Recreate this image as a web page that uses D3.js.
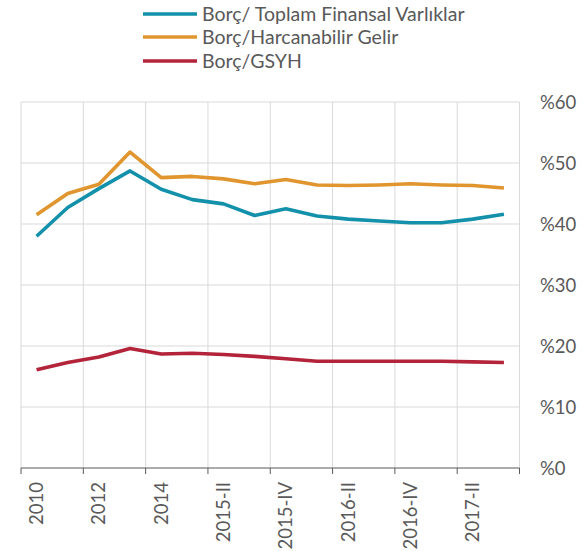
<!DOCTYPE html>
<html><head><meta charset="utf-8">
<script src="https://cdn.jsdelivr.net/npm/d3@7"></script>
<style>body{margin:0;background:#fff}svg{display:block}</style>
</head><body>
<svg id="c" width="585" height="551"></svg>
<script>
const categories = ["2010","2011","2012","2013","2014","2015-I","2015-II","2015-III","2015-IV","2016-I","2016-II","2016-III","2016-IV","2017-I","2017-II","2017-III"];
const tickLabels = ["2010","2012","2014","2015-II","2015-IV","2016-II","2016-IV","2017-II"];
const yTicks = [0,10,20,30,40,50,60];
const seriesNames = ["Borç/ Toplam Finansal Varlıklar","Borç/Harcanabilir Gelir","Borç/GSYH"];
const varliklar = [38.0,42.7,45.8,48.7,45.7,44.0,43.3,41.4,42.5,41.3,40.8,40.5,40.2,40.2,40.8,41.6];
const harcanabilir = [41.5,45.0,46.5,51.8,47.6,47.8,47.4,46.6,47.3,46.4,46.3,46.4,46.6,46.4,46.3,45.9];
const gsyh = [16.1,17.3,18.2,19.6,18.7,18.8,18.6,18.3,17.9,17.5,17.5,17.5,17.5,17.5,17.4,17.3];
const colors = ["#1390aa","#e0952f","#b3233a"];
const series = [varliklar, harcanabilir, gsyh];

const svg = d3.select("#c");
const L = 21, R = 519.5, T = 102, B = 468;
const font = "Lato, 'Open Sans', sans-serif";
const txt = "#595959";

const x = d3.scaleBand().domain(categories).range([L, R]).padding(0);
const y = d3.scaleLinear().domain([0, 60]).range([B, T]);

const vx = categories.filter((d,i)=>i%2===0).map(d=>x(d)).concat([R]);
svg.append("g").selectAll("line").data(vx).join("line")
  .attr("x1",d=>d).attr("x2",d=>d).attr("y1",T).attr("y2",B)
  .attr("stroke","#d9d9d9").attr("stroke-width",1);
svg.append("g").selectAll("line").data(yTicks.filter(d=>d>0)).join("line")
  .attr("x1",L).attr("x2",R).attr("y1",d=>y(d)).attr("y2",d=>y(d))
  .attr("stroke","#d9d9d9").attr("stroke-width",1);

svg.append("line").attr("x1",L).attr("x2",R).attr("y1",B).attr("y2",B).attr("stroke","#595959").attr("stroke-width",1);
svg.append("g").selectAll("line").data(vx).join("line")
  .attr("x1",d=>d).attr("x2",d=>d).attr("y1",B).attr("y2",B+6)
  .attr("stroke","#595959").attr("stroke-width",1);

svg.append("g").selectAll("text").data(tickLabels).join("text")
  .attr("transform",d=>`translate(${x(d)+x.bandwidth()/2+6.5},${B+14}) rotate(-90)`)
  .attr("text-anchor","end")
  .attr("font-family",font).attr("font-size",18.5).attr("fill",txt)
  .text(d=>d);

svg.append("g").selectAll("text").data(yTicks).join("text")
  .attr("x",540).attr("y",d=>y(d)+6.5)
  .attr("font-family",font).attr("font-size",18.5).attr("fill",txt)
  .text(d=>"%"+d);

const line = d3.line().x((d,i)=>x(categories[i])+x.bandwidth()/2).y(d=>y(d));
series.forEach((s,k)=>{
  svg.append("path").datum(s).attr("d",line)
    .attr("fill","none").attr("stroke",colors[k]).attr("stroke-width",3.6)
    .attr("stroke-linejoin","round").attr("stroke-linecap","butt");
});

const ly = [14,37,61];
seriesNames.forEach((n,k)=>{
  svg.append("line").attr("x1",143).attr("x2",197).attr("y1",ly[k]).attr("y2",ly[k])
    .attr("stroke",colors[k]).attr("stroke-width",3.6);
  svg.append("text").attr("x",202).attr("y",ly[k]+6.5)
    .attr("font-family",font).attr("font-size",19.5).attr("fill",txt).text(n);
});
</script>
</body></html>
